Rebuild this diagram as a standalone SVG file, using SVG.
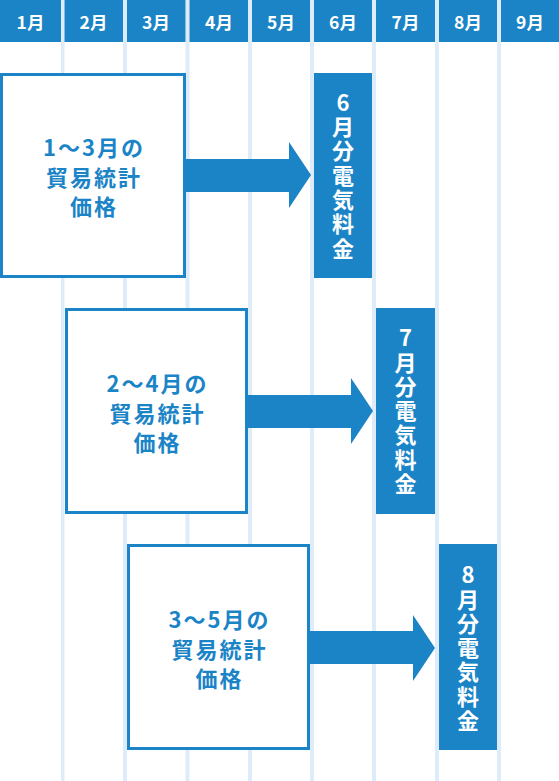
<svg xmlns="http://www.w3.org/2000/svg" width="559" height="781" viewBox="0 0 559 781">
<style>
.sep{fill:#deebf9}
.hd{fill:#1b84c7}
.ht{fill:#ffffff;font-family:"Noto Sans CJK JP","Noto Sans",sans-serif;font-weight:bold;font-size:17.5px;text-anchor:middle;dominant-baseline:central}
.box{fill:#ffffff;stroke:#1b84c7;stroke-width:3}
.bt{fill:#1b84c7;font-family:"Noto Sans CJK JP","Noto Sans",sans-serif;font-weight:bold;font-size:22px;letter-spacing:2px;text-anchor:middle;dominant-baseline:central}
.bar{fill:#1b84c7}
.vt{fill:#ffffff;font-family:"Noto Sans CJK JP","Noto Sans",sans-serif;font-weight:bold;font-size:22px;letter-spacing:2.3px;writing-mode:vertical-rl;text-orientation:upright;text-anchor:middle}
.arr{fill:#1b84c7}
</style>
<rect width="559" height="781" fill="#ffffff"/>
<g id="grid">
<rect class="sep" x="61" y="0" width="3.5" height="781"/>
<rect class="sep" x="123" y="0" width="4" height="781"/>
<rect class="sep" x="185.5" y="0" width="4" height="781"/>
<rect class="sep" x="248" y="0" width="4" height="781"/>
<rect class="sep" x="310" y="0" width="4" height="781"/>
<rect class="sep" x="372" y="0" width="4" height="781"/>
<rect class="sep" x="435" y="0" width="4" height="781"/>
<rect class="sep" x="497" y="0" width="4" height="781"/>
</g>
<g id="header">
<rect class="hd" x="0" y="0" width="61" height="42"/>
<rect class="hd" x="64.5" y="0" width="58.5" height="42"/>
<rect class="hd" x="127" y="0" width="58.5" height="42"/>
<rect class="hd" x="189.5" y="0" width="58.5" height="42"/>
<rect class="hd" x="252" y="0" width="58" height="42"/>
<rect class="hd" x="314" y="0" width="58" height="42"/>
<rect class="hd" x="376" y="0" width="59" height="42"/>
<rect class="hd" x="439" y="0" width="58" height="42"/>
<rect class="hd" x="501" y="0" width="58" height="42"/>
<text class="ht" x="30.5" y="21">1月</text>
<text class="ht" x="93.5" y="21">2月</text>
<text class="ht" x="156" y="21">3月</text>
<text class="ht" x="219" y="21">4月</text>
<text class="ht" x="281" y="21">5月</text>
<text class="ht" x="343" y="21">6月</text>
<text class="ht" x="405.5" y="21">7月</text>
<text class="ht" x="468" y="21">8月</text>
<text class="ht" x="530" y="21">9月</text>
</g>
<g id="connectors">
<polygon class="arr" points="184,159 289,159 289,142 311,175 289,208 289,192 184,192"/>
<polygon class="arr" points="246,395 351,395 351,378 373,411 351,444 351,428 246,428"/>
<polygon class="arr" points="308,631 413,631 413,615 435,648 413,681 413,664 308,664"/>
</g>
<g id="src1">
<rect class="box" x="1.5" y="74.5" width="183" height="202"/>
<text class="bt" x="94" y="146">1〜3月の</text>
<text class="bt" x="94" y="175.5">貿易統計</text>
<text class="bt" x="94" y="205">価格</text>
</g>
<g id="src2">
<rect class="box" x="66.5" y="309.5" width="180" height="203"/>
<text class="bt" x="157.5" y="382">2〜4月の</text>
<text class="bt" x="157.5" y="411.5">貿易統計</text>
<text class="bt" x="157.5" y="441">価格</text>
</g>
<g id="src3">
<rect class="box" x="128.5" y="545.5" width="180" height="203"/>
<text class="bt" x="219.5" y="618">3〜5月の</text>
<text class="bt" x="219.5" y="647.5">貿易統計</text>
<text class="bt" x="219.5" y="677">価格</text>
</g>
<g id="bill6">
<rect class="bar" x="314" y="73" width="58" height="205"/>
<text class="vt" x="343" y="176.5">6月分電気料金</text>
</g>
<g id="bill7">
<rect class="bar" x="376" y="308" width="59" height="206"/>
<text class="vt" x="405.5" y="412">7月分電気料金</text>
</g>
<g id="bill8">
<rect class="bar" x="439" y="544" width="58" height="206"/>
<text class="vt" x="468" y="649">8月分電気料金</text>
</g>
</svg>
